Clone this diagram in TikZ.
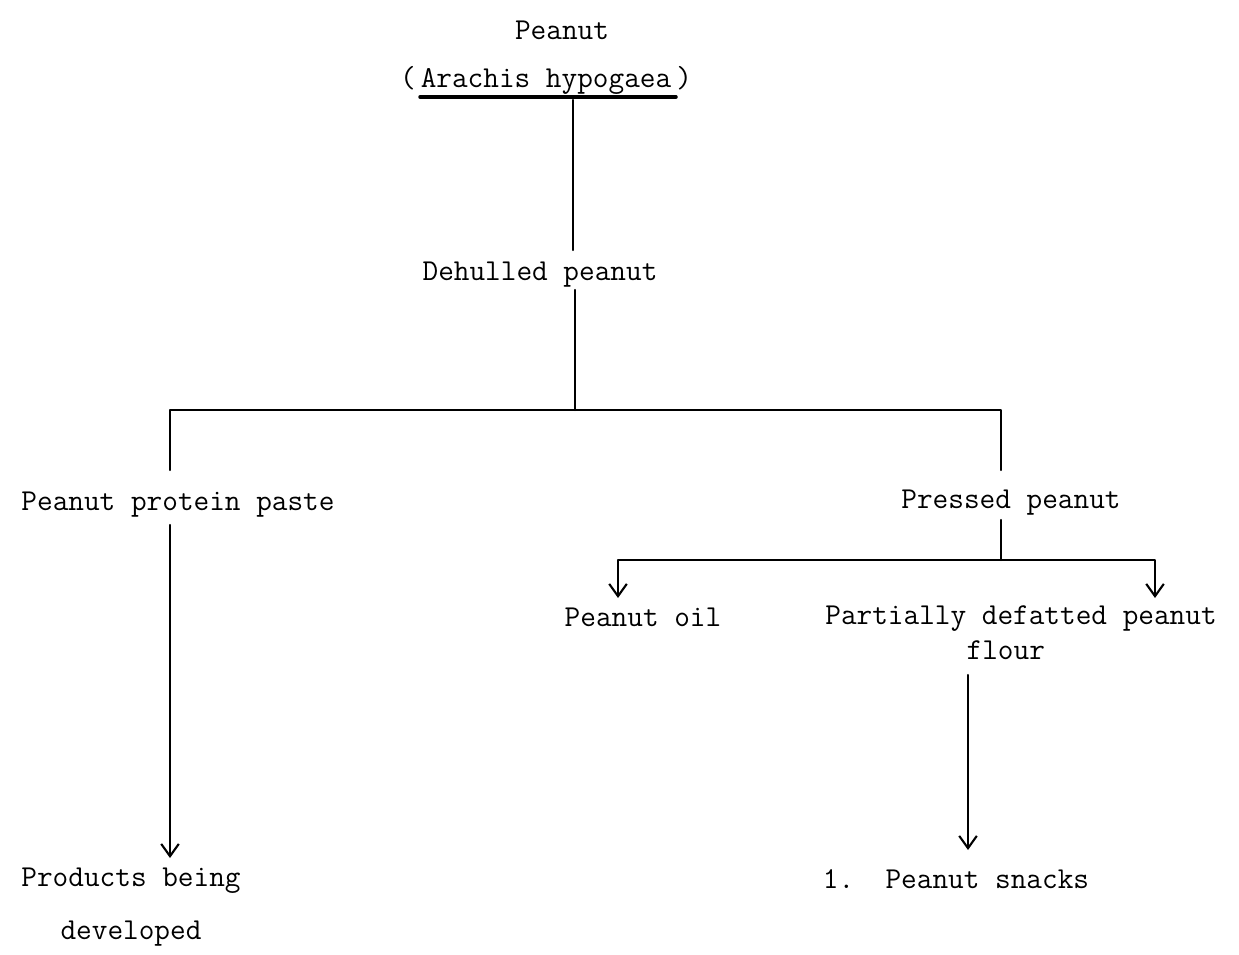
\documentclass[tikz,border=0pt]{standalone}
\usetikzlibrary{arrows.meta}
\tikzset{
  lbl/.style={font=\fontsize{17.3}{20}\selectfont\ttfamily, inner sep=1pt},
  conn/.style={line width=1.2pt},
  flow/.style={line width=1.2pt, -{Straight Barb[length=7pt,width=10pt]}}
}
\begin{document}
\begin{tikzpicture}[line cap=round,line join=round,x=0.02cm,y=-0.02cm]
	\useasboundingbox (0,0) rectangle (1239,955);
	% labels
	\node[lbl] (peanut) at (562,30) {Peanut};
	\node[lbl] (latin) at (546,80) {(\,Arachis hypogaea\,)};
	\node[lbl] (dehulled) at (540,275) {Dehulled peanut};
	\node[lbl] (paste) at (178,505) {Peanut protein paste};
	\node[lbl] (pressed) at (1011,503) {Pressed peanut};
	\node[lbl] (oil) at (643,617) {Peanut oil};
	\node[lbl, align=center] (flour) at (1021,633) {Partially defatted peanut\\flour\hspace*{1em}};
	\node[lbl, align=center] (products) at (131,907) {Products being\\[10pt]developed};
	\node[lbl] (snacks) at (956,879) {1.\ \ Peanut snacks};
	% junctions
	\coordinate (split1) at (575,410);
	\coordinate (left1) at (170,410);
	\coordinate (right1) at (1001,410);
	\coordinate (split2) at (1001,560);
	\coordinate (left2) at (618,560);
	\coordinate (right2) at (1155,560);
	% underline of the latin name
	\draw[line width=2pt] (420,97) -- (676,97);
	% connectors
	\draw[conn] (573,100) -- (573,250);
	\draw[conn] (575,290) -- (split1);
	\draw[conn] (170,470) -- (left1) -- (right1) -- (1001,470);
	\draw[conn] (1001,520) -- (split2);
	\draw[flow] (split2) -- (left2) -- (618,598);
	\draw[flow] (split2) -- (right2) -- (1155,598);
	\draw[flow] (170,525) -- (170,858);
	\draw[flow] (968,675) -- (968,850);
\end{tikzpicture}
\end{document}
